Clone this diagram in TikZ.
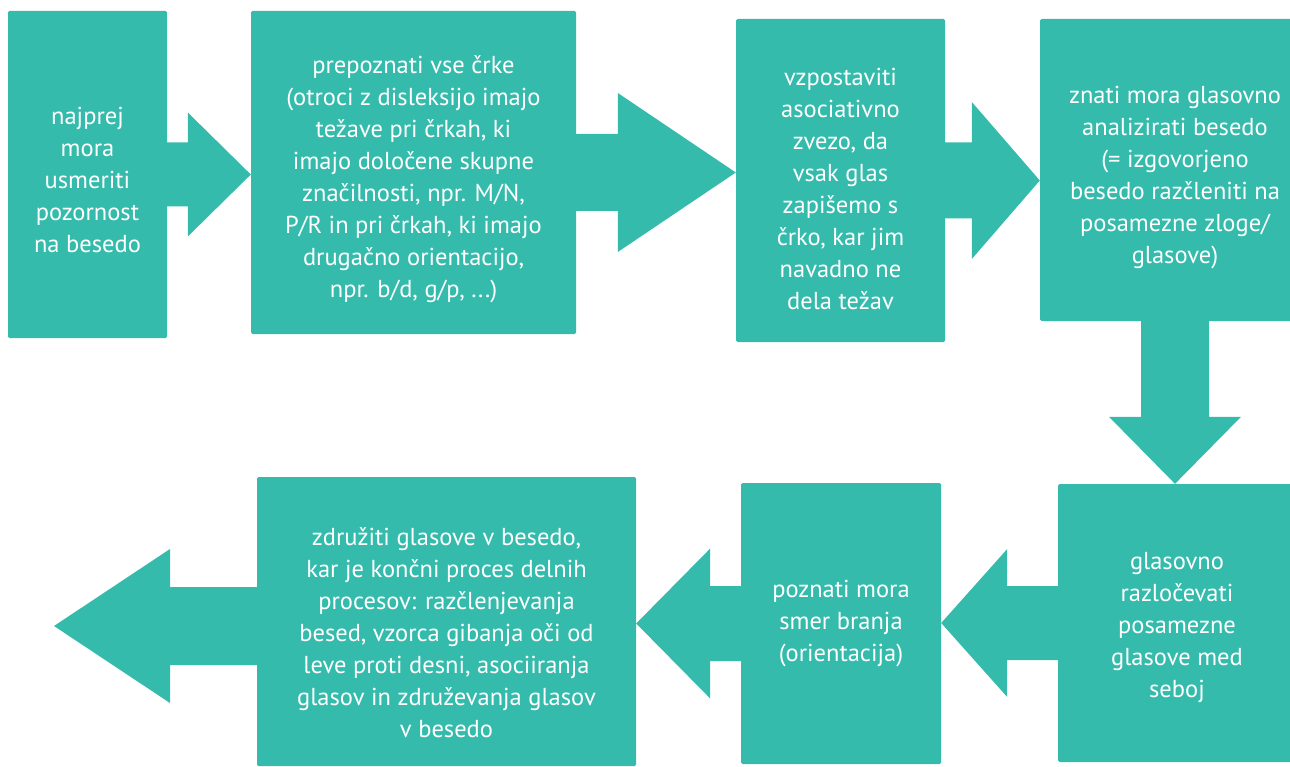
\documentclass[tikz,border=0pt]{standalone}
\usepackage{fontspec}
\setmainfont{PT Sans}
\usetikzlibrary{calc}
\definecolor{flowteal}{RGB}{52,187,172}

\tikzset{
  stepbox/.style={fill=flowteal, rounded corners=1.5pt, inner sep=0pt},
  steptext/.style={text=white, align=center, inner sep=0pt,
    font=\fontsize{24.5}{32}\selectfont},
  flowarrow/.style={fill=flowteal}
}
% block arrow: tail, tip, head length, shaft half width, head half width
\newcommand{\blockarrow}[5]{%
  \fill[flowarrow] let \p1=(#1), \p2=(#2) in
    (\x1,\y1+#4) -- ({\x2-(#3)},\y1+#4) -- ({\x2-(#3)},\y1+#5) -- (\x2,\y2)
    -- ({\x2-(#3)},\y1-#5) -- ({\x2-(#3)},\y1-#4) -- (\x1,\y1-#4) -- cycle;}

\begin{document}
\begin{tikzpicture}[x=1pt,y=-1pt]
    \useasboundingbox (0,0) rectangle (1290,767);

    % upper row
    \node[stepbox, minimum width=159, minimum height=327] (b1) at (87.5,174.5) {};
    \node[stepbox, minimum width=325, minimum height=323] (b2) at (413.5,172.5) {};
    \node[stepbox, minimum width=209, minimum height=323] (b3) at (840.5,180.5) {};
    \node[stepbox, minimum width=270, minimum height=302] (b4) at (1175,170) {};

    % lower row
    \node[stepbox, minimum width=238, minimum height=278] (b5) at (1177,623) {};
    \node[stepbox, minimum width=200, minimum height=281] (b6) at (841,623.5) {};
    \node[stepbox, minimum width=379, minimum height=289] (b7) at (446.5,621.5) {};
    \coordinate (end) at (54,626);

    % arrows
    \blockarrow{[xshift=-2pt]b1.east}{b2.west |- b1.east}{63pt}{32pt}{62pt}
    \blockarrow{[xshift=-2pt]b2.east}{b3.west |- b2.east}{118pt}{38.5pt}{79.5pt}
    \blockarrow{[xshift=-2pt]b3.east}{b4.west |- b3.east}{68pt}{38pt}{78.5pt}
    \fill[flowarrow] let \p1=([yshift=2pt]b4.south), \p2=(b4.south |- b5.north) in
        (\x1-34pt,\y1) -- (\x1-34pt,\y2+67pt) -- (\x1-66pt,\y2+67pt) -- (\x2,\y2)
        -- (\x1+66pt,\y2+67pt) -- (\x1+34pt,\y2+67pt) -- (\x1+34pt,\y1) -- cycle;
    \blockarrow{[xshift=2pt]b5.west}{b6.east |- b5.west}{-66pt}{37pt}{74pt}
    \blockarrow{[xshift=2pt]b6.west}{b7.east |- b6.west}{-74pt}{37.5pt}{75pt}
    \blockarrow{[xshift=2pt]b7.west |- end}{end}{-116pt}{39pt}{77pt}

    % texts
    \node[steptext] (t1) at ([yshift=-5pt]b1.center)
        {najprej\\mora\\usmeriti\\pozornost\\na besedo};
    \node[steptext] (t2) at ([yshift=-7pt]b2.center)
        {prepoznati vse črke\\(otroci z disleksijo imajo\\težave pri črkah, ki\\imajo določene skupne\\značilnosti, npr. M/N,\\P/R in pri črkah, ki imajo\\drugačno orientacijo,\\npr. b/d, g/p, ...)};
    \node[steptext] (t3) at ([yshift=-8pt]b3.center)
        {vzpostaviti\\asociativno\\zvezo, da\\vsak glas\\zapišemo s\\črko, kar jim\\navadno ne\\dela težav};
    \node[steptext] (t4) at ([yshift=-8pt]b4.center)
        {znati mora glasovno\\analizirati besedo\\(= izgovorjeno\\besedo razčleniti na\\posamezne zloge/\\glasove)};
    \node[steptext] (t5) at ([yshift=-5pt]b5.center)
        {glasovno\\razločevati\\posamezne\\glasove med\\seboj};
    \node[steptext] (t6) at (b6.center)
        {poznati mora\\smer branja\\(orientacija)};
    \node[steptext] (t7) at ([yshift=-11pt]b7.center)
        {združiti glasove v besedo,\\kar je končni proces delnih\\procesov: razčlenjevanja\\besed, vzorca gibanja oči od\\leve proti desni, asociiranja\\glasov in združevanja glasov\\v besedo};
\end{tikzpicture}
\end{document}
